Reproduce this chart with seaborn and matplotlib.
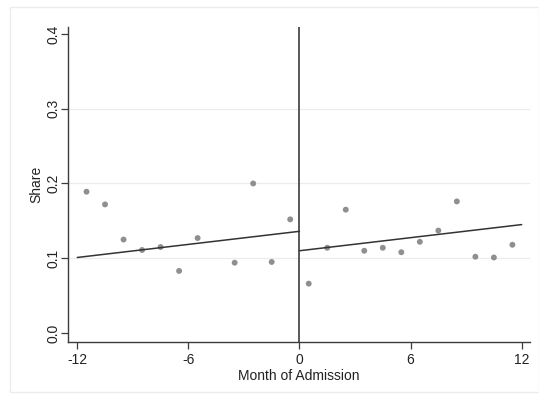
import numpy as np
import pandas as pd
import matplotlib
matplotlib.use("Agg")
import matplotlib.pyplot as plt
import seaborn as sns
from matplotlib.patches import Rectangle

# Binned monthly shares (bin centres) before and after the cutoff
months_before = [-11.5, -10.5, -9.5, -8.5, -7.5, -6.5, -5.5, -3.5, -2.5, -1.5, -0.5]
share_before = [0.189, 0.172, 0.125, 0.111, 0.115, 0.083, 0.127, 0.094, 0.200, 0.095, 0.152]
months_after = [0.5, 1.5, 2.5, 3.5, 4.5, 5.5, 6.5, 7.5, 8.5, 9.5, 10.5, 11.5]
share_after = [0.066, 0.114, 0.165, 0.110, 0.114, 0.108, 0.122, 0.137, 0.176, 0.102, 0.101, 0.118]

# Linear fits on each side of the cutoff (end points)
fit_before_x = [-12, 0]
fit_before_y = [0.101, 0.136]
fit_after_x = [0, 12]
fit_after_y = [0.110, 0.145]

x_ticks = [-12, -6, 0, 6, 12]
y_ticks = [0.0, 0.1, 0.2, 0.3, 0.4]
y_tick_labels = ["0.0", "0.1", "0.2", "0.3", "0.4"]

sns.set_theme(style="white")
plt.rcParams["font.family"] = ["Liberation Sans", "DejaVu Sans"]

points = pd.DataFrame({
    "month": months_before + months_after,
    "share": share_before + share_after,
})
fits = pd.DataFrame({
    "month": fit_before_x + fit_after_x,
    "share": fit_before_y + fit_after_y,
    "side": ["before"] * 2 + ["after"] * 2,
})

fig = plt.figure(figsize=(5.39, 3.98), dpi=100)
fig.patch.set_facecolor("white")
fig.add_artist(Rectangle((10 / 539, 6 / 398), 529 / 539, 385 / 398,
                         transform=fig.transFigure, fill=False,
                         edgecolor="#ececec", linewidth=1.0))

ax = fig.add_axes([68 / 539, 1 - 342 / 398, 462 / 539, 315 / 398])
ax.set_facecolor("white")

for yv in [0.1, 0.2, 0.3]:
    ax.axhline(yv, color="#ececec", linewidth=0.9, zorder=0)

sns.scatterplot(data=points, x="month", y="share", ax=ax, color="#8f8f8f",
                s=18, edgecolor="none", zorder=3)
sns.lineplot(data=fits, x="month", y="share", units="side", estimator=None,
             ax=ax, color="#333333", linewidth=1.1, zorder=4)

ax.axvline(0, color="#3c3c3c", linewidth=1.2, zorder=2)

ax.set_xlim(-12.5, 12.45)
ax.set_ylim(-0.0121, 0.4094)
ax.set_xticks(x_ticks)
ax.set_xticklabels([str(t) for t in x_ticks])
ax.set_yticks(y_ticks)
ax.set_yticklabels(y_tick_labels, rotation=90, va="center")

for side in ["top", "right"]:
    ax.spines[side].set_visible(False)
for side in ["left", "bottom"]:
    ax.spines[side].set_color("#3c3c3c")
    ax.spines[side].set_linewidth(1.0)

ax.tick_params(axis="both", which="major", direction="out", length=5,
               width=0.9, color="#3c3c3c", labelsize=10, labelcolor="#222222",
               bottom=True, left=True)
ax.tick_params(axis="x", pad=3)
ax.tick_params(axis="y", pad=0.5)

ax.set_xlabel("Month of Admission", fontsize=10, color="#222222", labelpad=1)
ax.set_ylabel("Share", fontsize=10, color="#222222", labelpad=2)

fig.savefig("out.png", dpi=100)
